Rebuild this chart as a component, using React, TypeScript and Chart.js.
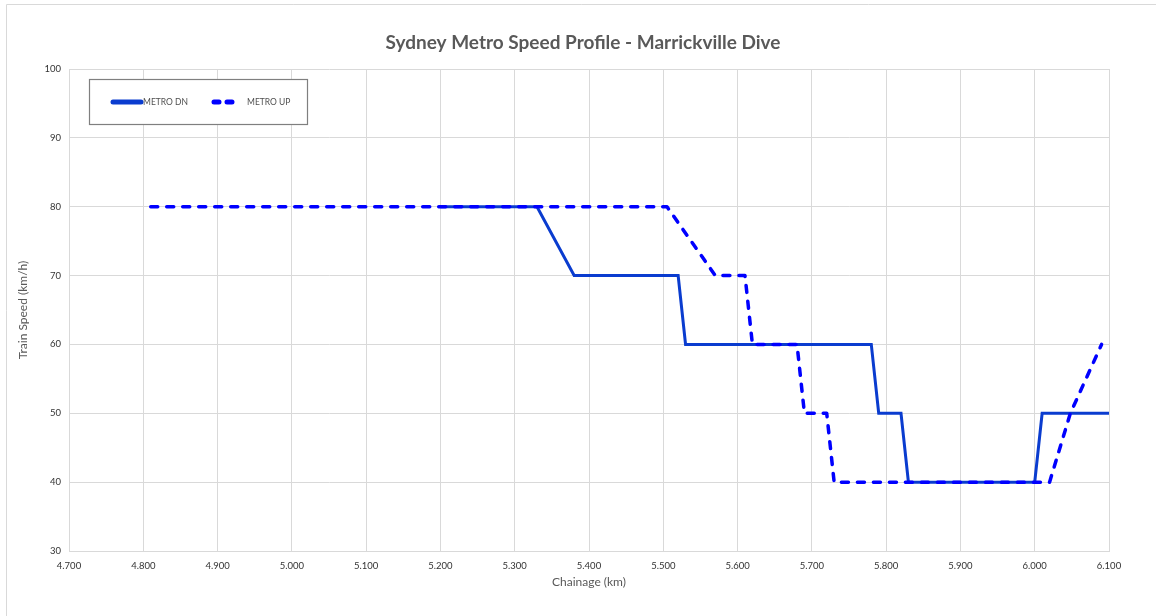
import React, { useEffect, useRef } from "react";
import { Chart, registerables } from "chart.js";

Chart.register(...registerables);

const titleText = "Sydney Metro Speed Profile - Marrickville Dive";
const xAxisTitle = "Chainage (km)";
const yAxisTitle = "Train Speed (km/h)";
const seriesNames = ["METRO DN", "METRO UP"];

const dnChainage = [5.2, 5.33, 5.38, 5.52, 5.53, 5.78, 5.79, 5.82, 5.83, 6.0, 6.01, 6.1];
const dnSpeed = [80, 80, 70, 70, 60, 60, 50, 50, 40, 40, 50, 50];

const upChainage = [4.81, 5.505, 5.57, 5.61, 5.62, 5.68, 5.69, 5.72, 5.73, 6.02, 6.048, 6.09];
const upSpeed = [80, 80, 70, 70, 60, 60, 50, 50, 40, 40, 50, 60];

const xMin = 4.7;
const xMax = 6.1;
const xStep = 0.1;
const yMin = 30;
const yMax = 100;
const yStep = 10;

const DN_COLOR = "#0a3ccf";
const UP_COLOR = "#0000ff";
const TEXT_COLOR = "#595959";
const GRID_COLOR = "#d9d9d9";
const FONT = "Lato, 'Open Sans', sans-serif";

const decorPlugin = {
  id: "decor",
  afterDraw(chart: any) {
    const ctx = chart.ctx as CanvasRenderingContext2D;
    const area = chart.chartArea;
    ctx.save();
    // outer frame (left and top)
    ctx.strokeStyle = GRID_COLOR;
    ctx.lineWidth = 1;
    ctx.beginPath();
    ctx.moveTo(6.5, 616);
    ctx.lineTo(6.5, 4.5);
    ctx.lineTo(1156, 4.5);
    ctx.stroke();

    // title
    ctx.fillStyle = TEXT_COLOR;
    ctx.font = `bold 19px ${FONT}`;
    ctx.textAlign = "center";
    ctx.textBaseline = "middle";
    ctx.fillText(titleText, 583, 43);

    // axis titles
    ctx.font = `12px ${FONT}`;
    ctx.fillText(xAxisTitle, (area.left + area.right) / 2, 582);
    ctx.save();
    ctx.translate(23, (area.top + area.bottom) / 2);
    ctx.rotate(-Math.PI / 2);
    ctx.fillText(yAxisTitle, 0, 0);
    ctx.restore();

    // legend box
    ctx.fillStyle = "#ffffff";
    ctx.fillRect(89.5, 79.5, 218, 45);
    ctx.strokeStyle = "#7f7f7f";
    ctx.lineWidth = 1.2;
    ctx.strokeRect(89.5, 79.5, 218, 45);

    const ly = 102;
    ctx.lineCap = "round";
    ctx.strokeStyle = DN_COLOR;
    ctx.lineWidth = 5;
    ctx.setLineDash([]);
    ctx.beginPath();
    ctx.moveTo(113, ly);
    ctx.lineTo(141, ly);
    ctx.stroke();

    ctx.strokeStyle = UP_COLOR;
    ctx.lineWidth = 5;
    ctx.setLineDash([5, 8]);
    ctx.beginPath();
    ctx.moveTo(214, ly);
    ctx.lineTo(238, ly);
    ctx.stroke();
    ctx.setLineDash([]);

    ctx.fillStyle = "#505050";
    ctx.font = `8.5px ${FONT}`;
    ctx.textAlign = "left";
    ctx.textBaseline = "middle";
    ctx.fillText(seriesNames[0], 143, ly);
    ctx.fillText(seriesNames[1], 247, ly);
    ctx.restore();
  },
};

export default function App() {
  const canvasRef = useRef<HTMLCanvasElement | null>(null);

  useEffect(() => {
    if (!canvasRef.current) return;
    const dnData = dnChainage.map((x, i) => ({ x, y: dnSpeed[i] }));
    const upData = upChainage.map((x, i) => ({ x, y: upSpeed[i] }));
    const chart = new Chart(canvasRef.current, {
      type: "scatter",
      data: {
        datasets: [
          {
            label: seriesNames[0],
            data: dnData,
            showLine: true,
            borderColor: DN_COLOR,
            backgroundColor: DN_COLOR,
            borderWidth: 3,
            pointRadius: 0,
            pointHoverRadius: 0,
            tension: 0,
            order: 1,
          },
          {
            label: seriesNames[1],
            data: upData,
            showLine: true,
            borderColor: UP_COLOR,
            backgroundColor: UP_COLOR,
            borderWidth: 3.5,
            borderDash: [7, 9],
            borderCapStyle: "round",
            borderJoinStyle: "round",
            pointRadius: 0,
            pointHoverRadius: 0,
            tension: 0,
            order: 0,
          },
        ],
      },
      options: {
        animation: false,
        responsive: false,
        devicePixelRatio: 1,
        layout: { padding: { top: 69, right: 47, left: 0, bottom: 0 } },
        plugins: {
          legend: { display: false },
          title: { display: false },
          tooltip: { enabled: false },
        },
        scales: {
          x: {
            type: "linear",
            min: xMin,
            max: xMax,
            afterFit: (s: any) => {
              s.height = 65;
            },
            grid: { color: GRID_COLOR, drawTicks: false, lineWidth: 1 },
            border: { color: GRID_COLOR },
            ticks: {
              stepSize: xStep,
              autoSkip: false,
              maxRotation: 0,
              padding: 9,
              color: "#333333",
              font: { family: FONT, size: 9.5 },
              callback: (v: any) => Number(v).toFixed(3),
            },
          },
          y: {
            type: "linear",
            min: yMin,
            max: yMax,
            afterFit: (s: any) => {
              s.width = 69;
            },
            grid: { color: GRID_COLOR, drawTicks: false, lineWidth: 1 },
            border: { color: GRID_COLOR },
            ticks: {
              stepSize: yStep,
              padding: 8,
              color: "#333333",
              font: { family: FONT, size: 9.5 },
            },
          },
        },
      },
      plugins: [decorPlugin],
    });
    return () => chart.destroy();
  }, []);

  return (
    <div style={{ position: "absolute", left: 0, top: 0, width: 1156, height: 616, background: "#fff" }}>
      <canvas ref={canvasRef} width={1156} height={616} style={{ display: "block" }} />
    </div>
  );
}
